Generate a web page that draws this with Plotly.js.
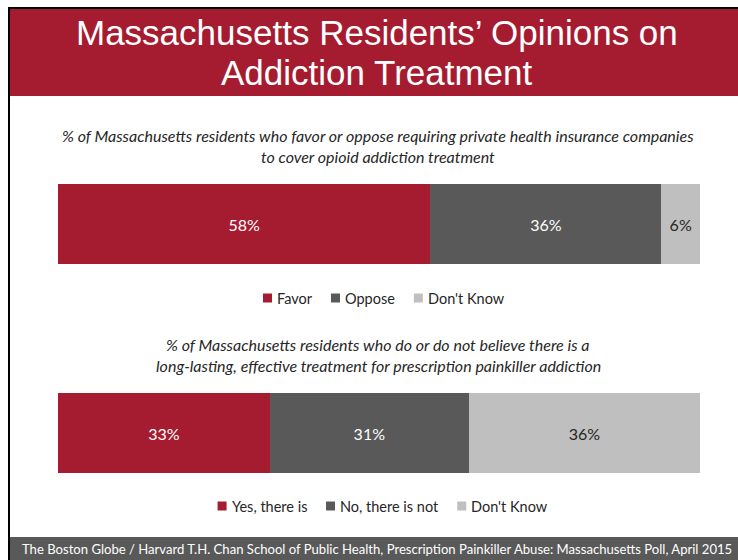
<!DOCTYPE html>
<html>
<head>
<meta charset="utf-8">
<script src="https://cdn.plot.ly/plotly-3.0.1.min.js"></script>
<style>
  html, body { margin: 0; padding: 0; background: #ffffff; }
  #chart { width: 738px; height: 560px; }
</style>
</head>
<body>
<div id="chart"></div>
<script>
// Survey answers, in percent
const q1Categories = ['Favor', 'Oppose', "Don't Know"];
const q1Values = [58, 36, 6];
const q2Categories = ['Yes, there is', 'No, there is not', "Don't Know"];
const q2Values = [33, 31, 36];

const q1Question = [
  '% of Massachusetts residents who favor or oppose requiring private health insurance companies',
  'to cover opioid addiction treatment'
];
const q2Question = [
  '% of Massachusetts residents who do or do not believe there is a',
  'long-lasting, effective treatment for prescription painkiller addiction'
];
const titleLines = ['Massachusetts Residents\u2019 Opinions on', 'Addiction Treatment'];
const sourceNote = 'The Boston Globe / Harvard T.H. Chan School of Public Health, Prescription Painkiller Abuse: Massachusetts Poll, April 2015';

const segmentColors = ['#A51C30', '#595959', '#BFBFBF'];
const labelColors = ['#FFFFFF', '#FFFFFF', '#262626'];

const bodyFamily = 'Lato';
const bodyFont = 'Lato, Calibri, "Open Sans", sans-serif';
const titleFont = '"Liberation Sans Narrow", "Arial Narrow", "Liberation Sans", Arial, sans-serif';
const legendSize = 14.5;

const W = 738, H = 560;
const px = v => v / W;        // horizontal pixel -> paper
const py = v => 1 - v / H;    // vertical pixel (from top) -> paper

function stackTraces(categories, values, xa, ya) {
  return categories.map((name, i) => ({
    type: 'bar',
    orientation: 'h',
    name: name,
    x: [values[i]],
    y: ['q'],
    xaxis: xa,
    yaxis: ya,
    showlegend: false,
    marker: { color: segmentColors[i], line: { width: 0 } },
    text: [values[i] + '%'],
    texttemplate: '%{text}',
    textposition: 'inside',
    insidetextanchor: 'middle',
    textangle: 0,
    constraintext: 'none',
    textfont: { family: bodyFont, size: 16, color: labelColors[i] },
    hoverinfo: 'skip'
  }));
}

const data = [
  ...stackTraces(q1Categories, q1Values, 'x', 'y'),
  ...stackTraces(q2Categories, q2Values, 'x2', 'y2')
];

const hiddenX = (anchor) => ({
  domain: [px(58), px(700)], range: [0, 100], anchor: anchor,
  visible: false, fixedrange: true
});
const hiddenY = (dom, anchor) => ({
  domain: dom, anchor: anchor, visible: false, fixedrange: true
});

function textNote(text, xPix, yPix, size, opts) {
  return Object.assign({
    xref: 'paper', yref: 'paper', x: px(xPix), y: py(yPix),
    xanchor: 'center', yanchor: 'middle', showarrow: false,
    text: text,
    font: { family: bodyFont, size: size, color: '#262626' }
  }, opts || {});
}

const titleStyle = { font: { family: titleFont, size: 35, color: '#FFFFFF' }, borderpad: 0 };
const annotations = [
  textNote(titleLines[0], 377, 32, 35, titleStyle),
  textNote(titleLines[1], 377, 72, 35, titleStyle),
  textNote('<i>' + q1Question[0] + '</i>', 378, 135, 16),
  textNote('<i>' + q1Question[1] + '</i>', 378, 156, 16),
  textNote('<i>' + q2Question[0] + '</i>', 378, 344, 16),
  textNote('<i>' + q2Question[1] + '</i>', 378, 365, 16),
  textNote(sourceNote, 20, 549, 13.1, { xanchor: 'left', font: { family: bodyFont, size: 13.1, color: '#FFFFFF' } })
];

const shapes = [
  // header band
  { type: 'rect', xref: 'paper', yref: 'paper', x0: px(10), x1: 1, y0: py(96), y1: py(9),
    fillcolor: '#A51C30', line: { width: 0 }, layer: 'below' },
  // footer band
  { type: 'rect', xref: 'paper', yref: 'paper', x0: px(10), x1: 1, y0: 0, y1: py(537),
    fillcolor: '#595959', line: { width: 0 }, layer: 'below' },
  // slide frame, top and left edges
  { type: 'rect', xref: 'paper', yref: 'paper', x0: px(8), x1: 1, y0: py(9), y1: py(7),
    fillcolor: '#000000', line: { width: 0 }, layer: 'below' },
  { type: 'rect', xref: 'paper', yref: 'paper', x0: px(8), x1: px(10), y0: 0, y1: py(7),
    fillcolor: '#000000', line: { width: 0 }, layer: 'below' }
];

// Legend rows: a colour square and its label per category, centred as a row
const measureCtx = document.createElement('canvas').getContext('2d');
function textWidth(str, size) {
  measureCtx.font = size + 'px ' + bodyFamily;
  return measureCtx.measureText(str).width;
}
function addLegendRow(categories, centerX, centerY) {
  const sq = 9, gapIn = 4, gapOut = 20;
  const widths = categories.map(c => textWidth(c, legendSize));
  const total = widths.reduce((s, w) => s + sq + gapIn + w, 0) + gapOut * (categories.length - 1);
  let x = centerX - total / 2;
  categories.forEach((c, i) => {
    shapes.push({
      type: 'rect', xref: 'paper', yref: 'paper',
      x0: px(x), x1: px(x + sq), y0: py(centerY + sq / 2), y1: py(centerY - sq / 2),
      fillcolor: segmentColors[i], line: { width: 0 }
    });
    annotations.push(textNote(c, x + sq + gapIn - 1, centerY, legendSize, { xanchor: 'left' }));
    x += sq + gapIn + widths[i] + gapOut;
  });
}
addLegendRow(q1Categories, 383, 298);
addLegendRow(q2Categories, 382, 506);

const layout = {
  width: W, height: H,
  margin: { l: 0, r: 0, t: 0, b: 0 },
  paper_bgcolor: '#FFFFFF', plot_bgcolor: 'rgba(0,0,0,0)',
  barmode: 'stack', bargap: 0,
  showlegend: false,
  xaxis: hiddenX('y'),
  yaxis: hiddenY([py(264), py(184)], 'x'),
  xaxis2: hiddenX('y2'),
  yaxis2: hiddenY([py(473), py(393)], 'x2'),
  annotations: annotations,
  shapes: shapes
};

Plotly.newPlot('chart', data, layout, { staticPlot: true, displayModeBar: false });
</script>
</body>
</html>
